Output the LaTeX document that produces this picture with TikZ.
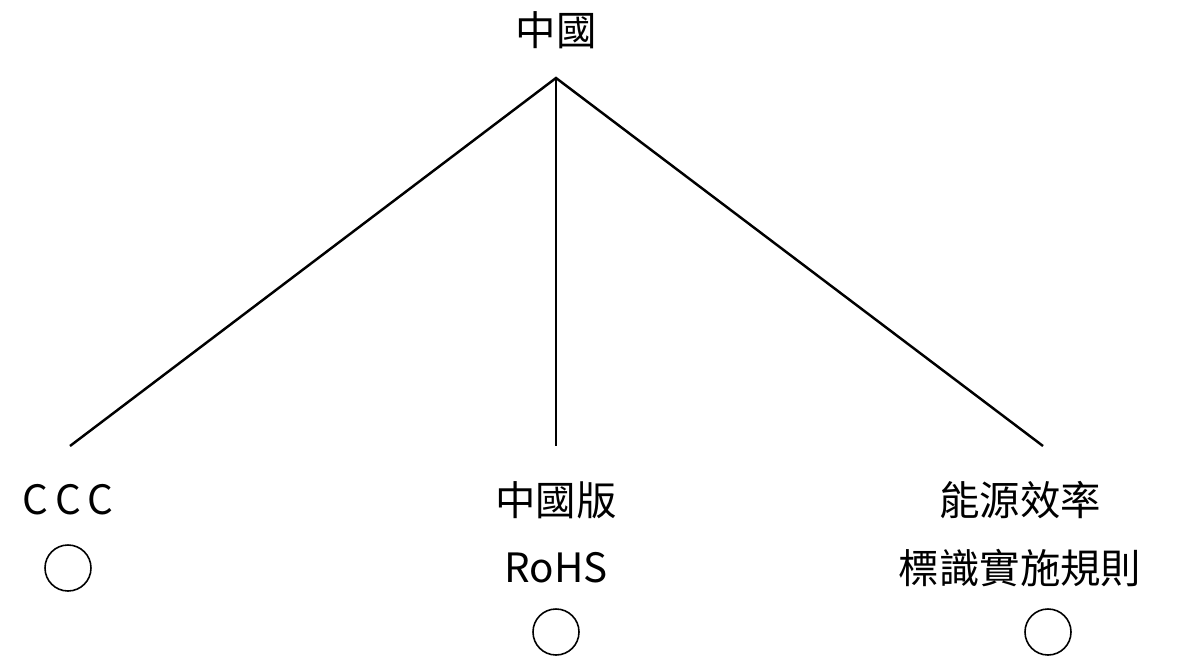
\documentclass[tikz,border=0pt]{standalone}
\usepackage{fontspec}
\setmainfont{Noto Sans CJK TC}
\tikzset{
  lbl/.style={font=\fontsize{23}{32}\selectfont, align=center, inner sep=0pt},
  branch/.style={line width=1.4pt},
  mark/.style={}
}
\begin{document}
\begin{tikzpicture}[x=0.02cm,y=-0.02cm]
	\useasboundingbox (0,0) rectangle (1180,666);
	\node[lbl] (root) at (556,30) {中國};
	\coordinate (apex) at (556,78);
	
	\coordinate (ccctop) at (70,446);
	\coordinate (rohstop) at (556,446);
	\coordinate (energytop) at (1043,446);
	\draw[branch] (ccctop) -- (apex) -- (energytop);
	\draw[branch] (apex) -- (rohstop);
	
	\node[lbl] (ccc) at (68,500) {C\,C\,C};
	\node[lbl] (rohs1) at (556,500) {中國版};
	\node[lbl] (rohs2) at (556,568) {RoHS};
	\node[lbl] (energy1) at (1020,500) {能源效率};
	\node[lbl] (energy2) at (1020,568) {標識實施規則};
	
	\draw[line width=0.9pt] (68,568) circle (23);
	\draw[line width=0.9pt] (556,632) circle (23);
	\draw[line width=0.9pt] (1048,632) circle (23);
\end{tikzpicture}
\end{document}
